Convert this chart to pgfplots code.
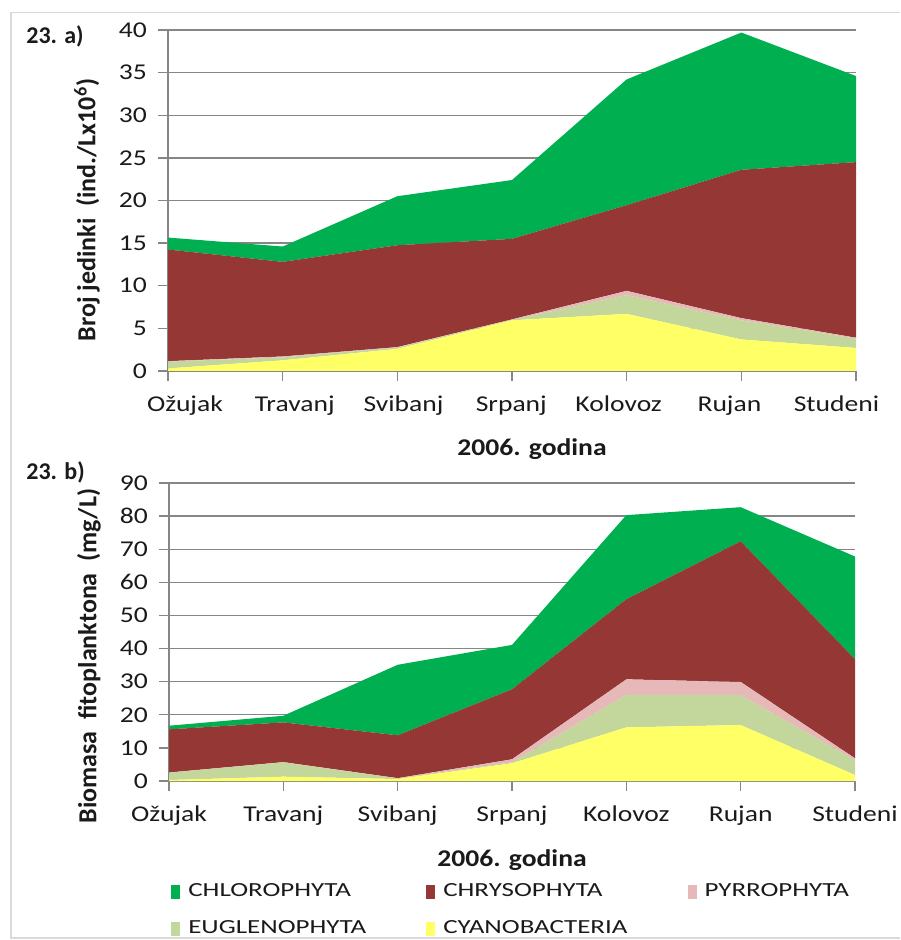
\documentclass[border=0pt]{standalone}
\usepackage{fontspec}
\setmainfont{Carlito}
\usepackage{pgfplots}
\pgfplotsset{compat=1.18}
\newfontfamily\tickfont{Carlito}[FakeStretch=1.22]
\newfontfamily\legfont{Carlito}[FakeStretch=1.35]
\newfontfamily\xlabfont{Carlito}[FakeStretch=1.15]
\definecolor{chloro}{HTML}{00B050}
\definecolor{chryso}{HTML}{953735}
\definecolor{pyrro}{HTML}{E6B9B8}
\definecolor{eugl}{HTML}{C3D69B}
\definecolor{cyano}{HTML}{FFFF66}
\definecolor{gridgray}{HTML}{868686}
\definecolor{framegray}{HTML}{D9D9D9}
\definecolor{txt}{HTML}{1A1A1A}
\pgfplotsset{
  myaxis/.style={
    scale only axis, xmin=0, xmax=6, ymin=0,
    axis lines*=left,
    axis line style={-, draw=gridgray, line width=0.7pt},
    ymajorgrids, grid style={draw=gridgray, line width=0.7pt},
    tick align=outside, major tick length=5pt,
    tick style={draw=gridgray, line width=0.7pt},
    xtick={0,...,6},
    /pgf/number format/assume math mode=true,
    ticklabel style={font=\tickfont\fontsize{11.3}{13}\selectfont, text=txt},
    yticklabel style={xshift=-2pt},
    stack plots=y,
    every axis plot/.append style={draw=none},
    label style={text=txt},
  }
}
\begin{document}
\begin{tikzpicture}
\path[use as bounding box] (0,0) rectangle (450pt,470pt);
\draw[framegray, line width=0.8pt] (450pt,463.75pt) -- (5.5pt,463.75pt) -- (5.5pt,1pt) -- (450pt,1pt);
\node[anchor=west, text=txt, font=\bfseries\fontsize{12}{14}\selectfont, inner sep=0pt] at (13pt,452pt) {23. a)};
\node[anchor=west, text=txt, font=\bfseries\fontsize{12}{14}\selectfont, inner sep=0pt] at (13pt,233.75pt) {23. b)};

% ---- top panel ----
\begin{axis}[myaxis,
  at={(84pt,284.5pt)}, anchor=south west,
  width=344pt, height=170.5pt,
  ymax=40, ytick={0,5,...,40},
  xticklabels={},
  extra x ticks={0.148,1.105,2.054,2.994,3.93,4.896,5.83},
  extra x tick labels={Ožujak,Travanj,Svibanj,Srpanj,Kolovoz,Rujan,Studeni},
  extra x tick style={major tick length=0pt, xticklabel style={yshift=-9pt}},
  xlabel={\xlabfont\bfseries 2006. godina},
  xlabel style={at={(rel axis cs:0.529,-0.229)}, anchor=center, font=\fontsize{12}{14}\selectfont},
  ylabel={Broj jedinki\ \ (ind./Lx10\textsuperscript{6})},
  ylabel style={at={(rel axis cs:-0.1177,0.472)}, anchor=center, font=\bfseries\fontsize{13}{15}\selectfont},
]
\addplot[fill=cyano] coordinates {(0,0.3) (1,1.25) (2,2.6) (3,5.95) (4,6.7) (5,3.7) (6,2.7)} \closedcycle;
\addplot[fill=eugl] coordinates {(0,0.8) (1,0.35) (2,0.15) (3,0.05) (4,2.2) (5,2.25) (6,1.1)} \closedcycle;
\addplot[fill=pyrro] coordinates {(0,0.05) (1,0.1) (2,0.05) (3,0.05) (4,0.5) (5,0.25) (6,0.1)} \closedcycle;
\addplot[fill=chryso] coordinates {(0,13.1) (1,11.1) (2,11.95) (3,9.45) (4,10.05) (5,17.4) (6,20.6)} \closedcycle;
\addplot[fill=chloro] coordinates {(0,1.4) (1,1.8) (2,5.75) (3,6.9) (4,14.75) (5,16.1) (6,10.1)} \closedcycle;
\end{axis}

% ---- bottom panel ----
\begin{axis}[myaxis,
  at={(84.5pt,79.5pt)}, anchor=south west,
  width=343pt, height=149pt,
  ymax=90, ytick={0,10,...,90},
  xticklabels={Ožujak,Travanj,Svibanj,Srpanj,Kolovoz,Rujan,Studeni},
  xticklabel style={yshift=-4pt},
  xlabel={\xlabfont\bfseries 2006. godina},
  xlabel style={at={(rel axis cs:0.5,-0.265)}, anchor=center, font=\fontsize{12}{14}\selectfont},
  ylabel={Biomasa\ \ fitoplanktona\ \ (mg/L)},
  ylabel style={at={(rel axis cs:-0.1166,0.419)}, anchor=center, font=\bfseries\fontsize{13}{15}\selectfont},
  reverse legend,
  legend columns=3,
  legend cell align=left,
  legend image code/.code={\fill[#1] (0pt,-3.4pt) rectangle (4.5pt,3.4pt);},
  legend style={draw=none, fill=none, at={(rel axis cs:-0.006,-0.33)}, anchor=north west,
    font=\legfont\fontsize{10}{12}\selectfont, text=txt,
    nodes={inner sep=0pt, anchor=west},
    row sep=10.5pt,
    /tikz/every odd column/.append style={column sep=4pt},
    /tikz/every even column/.append style={column sep=30pt}},
]
\addplot[fill=cyano] coordinates {(0,0.3) (1,1.3) (2,0.6) (3,5.35) (4,16.2) (5,16.9) (6,1.8)} \closedcycle;
\addlegendentry{CYANOBACTERIA}
\addplot[fill=eugl] coordinates {(0,2.2) (1,4.3) (2,0.2) (3,0.3) (4,9.8) (5,9.0) (6,4.55)} \closedcycle;
\addlegendentry{EUGLENOPHYTA}
\addplot[fill=pyrro] coordinates {(0,0.05) (1,0.1) (2,0.05) (3,0.9) (4,4.7) (5,4.0) (6,0.5)} \closedcycle;
\addlegendentry{PYRROPHYTA}
\addplot[fill=chryso] coordinates {(0,13.05) (1,12.0) (2,12.95) (3,21.15) (4,24.2) (5,42.5) (6,29.95)} \closedcycle;
\addlegendentry{CHRYSOPHYTA}
\addplot[fill=chloro] coordinates {(0,1.1) (1,2.0) (2,21.3) (3,13.4) (4,25.4) (5,10.3) (6,31.0)} \closedcycle;
\addlegendentry{CHLOROPHYTA}
\end{axis}
\end{tikzpicture}
\end{document}
